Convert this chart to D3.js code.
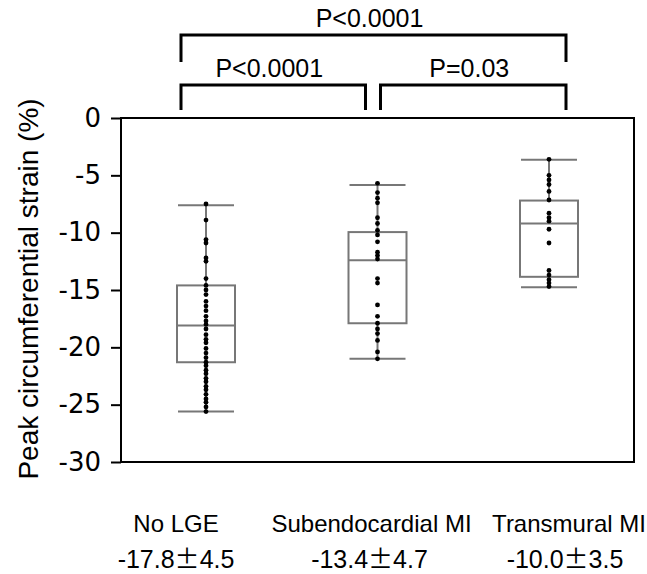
<!DOCTYPE html>
<html>
<meta charset="utf-8">
<style>
body { margin: 0; background: #fff; }
svg { display: block; }
text { font-family: "Liberation Sans", Arial, sans-serif; fill: #000; }
.axis text { font-family: "DejaVu Sans", Verdana, sans-serif; font-size: 26px; }
.axis path, .axis line { stroke: #000; stroke-width: 2; }
</style>
<body>
<script src="https://cdnjs.cloudflare.com/ajax/libs/d3/7.8.5/d3.min.js"></script>
<script>
// groups and summary values (peak circumferential strain, %)
var groups = ["No LGE", "Subendocardial MI", "Transmural MI"];
var means = ["-17.8", "-13.4", "-10.0"];
var sds = ["4.5", "4.7", "3.5"];
var whiskerHigh = [-7.6, -5.85, -3.65];
var q3 = [-14.6, -9.95, -7.2];
var medians = [-18.1, -12.4, -9.2];
var q1 = [-21.3, -17.9, -13.85];
var whiskerLow = [-25.6, -21.0, -14.75];

// individual patients
var noLge = [-7.5, -8.9, -10.6, -10.9, -12.2, -12.5, -14.0, -14.6, -15.0, -15.4, -16.0, -16.4,
  -16.8, -17.3, -17.7, -18.0, -18.4, -18.9, -19.3, -19.6, -20.1, -20.5, -20.9, -21.3, -21.6,
  -22.0, -22.3, -22.7, -23.0, -23.4, -23.7, -24.1, -24.5, -24.8, -25.2, -25.6];
var subendo = [-5.7, -6.5, -7.0, -7.4, -8.7, -9.2, -9.8, -10.2, -10.8, -11.7, -12.0, -12.3,
  -14.0, -14.4, -16.3, -17.3, -17.9, -18.4, -18.8, -19.4, -20.4, -21.0];
var transmural = [-3.6, -5.0, -5.4, -5.8, -6.4, -7.15, -8.3, -8.7, -9.0, -9.7, -10.9,
  -13.3, -13.7, -14.1, -14.4, -14.7];
var points = [noLge, subendo, transmural];

var yTicks = [0, -5, -10, -15, -20, -25, -30];
var comparisons = [
  {from: 0, to: 2, label: "P<0.0001", level: 1},
  {from: 0, to: 1, label: "P<0.0001", level: 0},
  {from: 1, to: 2, label: "P=0.03", level: 0}
];

var W = 647, H = 574;
var plot = {left: 121, right: 634, top: 118, bottom: 462};

var svg = d3.select("body").append("svg").attr("width", W).attr("height", H);

var y = d3.scaleLinear().domain([-30, 0]).range([plot.bottom, plot.top]);
var x = d3.scalePoint().domain(groups).range([206, 549]);
var boxW = 58, capW = 56;
// text under the plot sits a little off the box centres
var labelShift = [-30, -6, 20], valueShift = [-30, -8, 16];

// frame
svg.append("rect")
  .attr("x", plot.left).attr("y", plot.top)
  .attr("width", plot.right - plot.left).attr("height", plot.bottom - plot.top)
  .attr("fill", "none").attr("stroke", "#000").attr("stroke-width", 2);

svg.append("g")
  .attr("class", "axis")
  .attr("transform", "translate(" + plot.left + ",0)")
  .call(d3.axisLeft(y).tickValues(yTicks).tickSize(10).tickPadding(10)
    .tickFormat(function(d) { return String(d); }))
  .call(function(g) { g.select(".domain").remove(); });

svg.append("text")
  .attr("transform", "translate(38," + ((plot.top + plot.bottom) / 2 - 1) + ") rotate(-90)")
  .attr("text-anchor", "middle")
  .attr("font-size", 28)
  .text("Peak circumferential strain (%)");

var g = svg.selectAll(".grp").data(groups).enter().append("g")
  .attr("class", "grp")
  .attr("transform", function(d) { return "translate(" + x(d) + ",0)"; });

// whisker line
g.append("line")
  .attr("y1", function(d, i) { return y(whiskerHigh[i]); })
  .attr("y2", function(d, i) { return y(whiskerLow[i]); })
  .attr("stroke", "#777").attr("stroke-width", 2);

g.append("rect")
  .attr("x", -boxW / 2).attr("width", boxW)
  .attr("y", function(d, i) { return y(q3[i]); })
  .attr("height", function(d, i) { return y(q1[i]) - y(q3[i]); })
  .attr("fill", "#fff").attr("stroke", "#777").attr("stroke-width", 2);

g.append("line")
  .attr("x1", -boxW / 2).attr("x2", boxW / 2)
  .attr("y1", function(d, i) { return y(medians[i]); })
  .attr("y2", function(d, i) { return y(medians[i]); })
  .attr("stroke", "#777").attr("stroke-width", 2);

[whiskerHigh, whiskerLow].forEach(function(arr) {
  g.append("line")
    .attr("x1", -capW / 2).attr("x2", capW / 2)
    .attr("y1", function(d, i) { return y(arr[i]); })
    .attr("y2", function(d, i) { return y(arr[i]); })
    .attr("stroke", "#777").attr("stroke-width", 2);
});

g.selectAll("circle")
  .data(function(d, i) { return points[i]; })
  .enter().append("circle")
  .attr("cx", 0)
  .attr("cy", function(v) { return y(v); })
  .attr("r", 2.4)
  .attr("fill", "#000");

// labels under the plot
g.append("text")
  .attr("x", function(d, i) { return labelShift[i]; })
  .attr("y", 532).attr("text-anchor", "middle").attr("font-size", 24)
  .text(function(d) { return d; });
var vt = g.append("text")
  .attr("x", function(d, i) { return valueShift[i]; })
  .attr("y", 568).attr("text-anchor", "middle").attr("font-size", 25);
vt.append("tspan").text(function(d, i) { return means[i]; });
vt.append("tspan").style("font-family", "'Noto Sans CJK JP', sans-serif").text("\u00b1");
vt.append("tspan").text(function(d, i) { return sds[i]; });

// significance brackets
var levelY = [85, 35], legLen = [25, 27];
comparisons.forEach(function(c) {
  var x1 = x(groups[c.from]) - 25, x2 = x(groups[c.to]) + 17;
  if (c.level === 0 && c.from === 1) x1 = x(groups[c.from]) + 3;
  if (c.level === 0 && c.to === 1) x2 = x(groups[c.to]) - 12;
  var ly = levelY[c.level];
  svg.append("path")
    .attr("d", "M" + x1 + "," + (ly + legLen[c.level]) + "V" + ly + "H" + x2 + "V" + (ly + legLen[c.level]))
    .attr("fill", "none").attr("stroke", "#000").attr("stroke-width", 3);
  svg.append("text")
    .attr("x", (x1 + x2) / 2 - 4).attr("y", ly - 8)
    .attr("text-anchor", "middle").attr("font-size", 25)
    .text(c.label);
});
</script>
</body>
</html>
